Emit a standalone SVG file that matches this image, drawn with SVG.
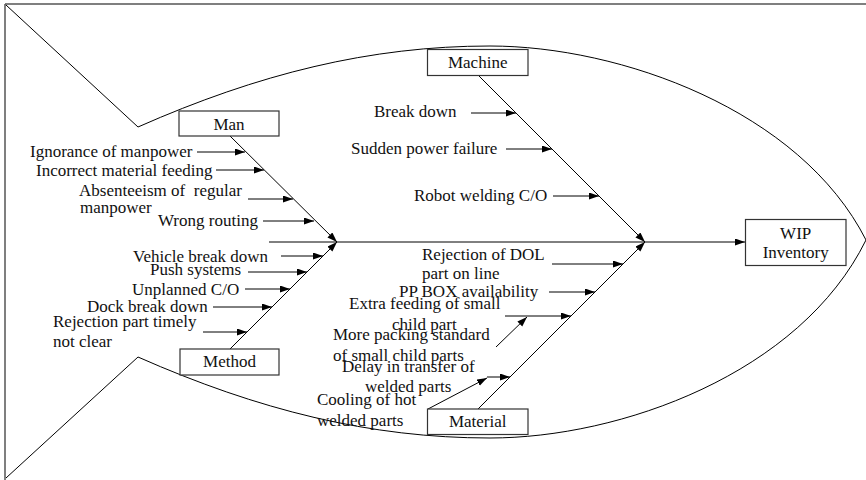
<svg xmlns="http://www.w3.org/2000/svg" width="866" height="480" viewBox="0 0 866 480">
  <style>
    text { font-family: "Liberation Serif", "Times New Roman", serif; font-size: 17px; fill: #111; }
    .mid { text-anchor: middle; }
    .ln { stroke: #000; stroke-width: 1; fill: none; }
    .arr { stroke: #000; stroke-width: 1; fill: none; marker-end: url(#head); }
    .box { fill: #fff; stroke: #333; stroke-width: 1.2; }
    .frame { stroke: #555; stroke-width: 1.5; fill: none; }
  </style>
  <defs>
    <marker id="head" markerUnits="userSpaceOnUse" markerWidth="10" markerHeight="8" refX="10" refY="3.5" orient="auto">
      <path d="M0,0 L10,3.5 L0,7 Z" fill="#000"/>
    </marker>
  </defs>

  <rect width="866" height="480" fill="#fff"/>

  <!-- page frame -->
  <path class="frame" d="M5,4 H866 M5,4 V480"/>

  <!-- fish outline: tail, back, belly, nose -->
  <g id="fish-outline">
    <path class="ln" d="M6,5 L138,127 C258,74 370,46 490,46 C620,46 800,110 866,240"/>
    <path class="ln" d="M6,478 L138,357 C258,410 370,438 490,438 C620,438 800,374 866,240"/>
  </g>

  <!-- spine, bones and cause arrows -->
  <g id="connectors">
    <line class="arr" x1="269" y1="242" x2="745" y2="242"/>

    <!-- main bones -->
    <line class="arr" x1="230" y1="136" x2="337" y2="242"/>
    <line class="arr" x1="230" y1="349" x2="337" y2="242"/>
    <line class="arr" x1="478" y1="75" x2="645" y2="242"/>
    <line class="arr" x1="478" y1="409" x2="645" y2="242"/>

    <!-- Man causes -->
    <line class="arr" x1="197" y1="152" x2="245" y2="152"/>
    <line class="arr" x1="216" y1="170" x2="264" y2="170"/>
    <line class="arr" x1="248" y1="199" x2="293" y2="199"/>
    <line class="arr" x1="263" y1="221" x2="314" y2="221"/>

    <!-- Method causes -->
    <line class="arr" x1="281" y1="256" x2="323" y2="256"/>
    <line class="arr" x1="248" y1="272" x2="307" y2="272"/>
    <line class="arr" x1="245" y1="289" x2="290" y2="289"/>
    <line class="arr" x1="213" y1="307" x2="272" y2="307"/>
    <line class="arr" x1="203" y1="332" x2="247" y2="332"/>

    <!-- Machine causes -->
    <line class="arr" x1="471" y1="113" x2="516" y2="113"/>
    <line class="arr" x1="506" y1="149" x2="552" y2="149"/>
    <line class="arr" x1="553" y1="196" x2="599" y2="196"/>

    <!-- Material causes -->
    <line class="arr" x1="552" y1="264" x2="623" y2="264"/>
    <line class="arr" x1="549" y1="292" x2="595" y2="292"/>
    <line class="arr" x1="505" y1="316" x2="571" y2="316"/>
    <line class="arr" x1="496" y1="347" x2="527" y2="317"/>
    <line class="arr" x1="487" y1="377" x2="510" y2="377"/>
    <line class="arr" x1="428" y1="409" x2="487" y2="378"/>
  </g>

  <!-- category: Man -->
  <g id="man">
    <rect class="box" x="179" y="111" width="100" height="25"/>
    <text class="mid" x="229" y="129.5">Man</text>
    <text x="30" y="157">Ignorance of manpower</text>
    <text x="36" y="176">Incorrect material feeding</text>
    <text x="79" y="196" xml:space="preserve">Absenteeism of  regular</text>
    <text x="80" y="213">manpower</text>
    <text x="158" y="226">Wrong routing</text>
  </g>

  <!-- category: Method -->
  <g id="method">
    <rect class="box" x="180" y="349" width="99" height="26"/>
    <text class="mid" x="229.5" y="367">Method</text>
    <text x="133" y="262">Vehicle break down</text>
    <text x="150" y="275">Push systems</text>
    <text x="132" y="295">Unplanned C/O</text>
    <text x="87" y="312">Dock break down</text>
    <text x="53" y="327">Rejection part timely</text>
    <text x="53" y="347">not clear</text>
  </g>

  <!-- category: Machine -->
  <g id="machine">
    <rect class="box" x="427.5" y="49.5" width="100.5" height="26"/>
    <text class="mid" x="477.7" y="68.3">Machine</text>
    <text x="374" y="117">Break down</text>
    <text x="351" y="154">Sudden power failure</text>
    <text x="414" y="201">Robot welding C/O</text>
  </g>

  <!-- category: Material -->
  <g id="material">
    <rect class="box" x="427.5" y="409" width="100.5" height="25.5"/>
    <text class="mid" x="477.7" y="427">Material</text>
    <text x="422" y="260">Rejection of DOL</text>
    <text x="422" y="279">part on line</text>
    <text x="399" y="297">PP BOX availability</text>
    <text x="349" y="309">Extra feeding of small</text>
    <text x="392" y="330">child part</text>
    <text x="333" y="340">More packing standard</text>
    <text x="333" y="361">of small child parts</text>
    <text x="342" y="372">Delay in transfer of</text>
    <text x="365" y="392">welded parts</text>
    <text x="317" y="405">Cooling of hot</text>
    <text x="317" y="426">welded parts</text>
  </g>

  <!-- effect -->
  <g id="wip-inventory">
    <rect class="box" x="745.5" y="219.5" width="100.5" height="46"/>
    <text class="mid" x="795.7" y="238.5">WIP</text>
    <text class="mid" x="795.7" y="258">Inventory</text>
  </g>
</svg>
